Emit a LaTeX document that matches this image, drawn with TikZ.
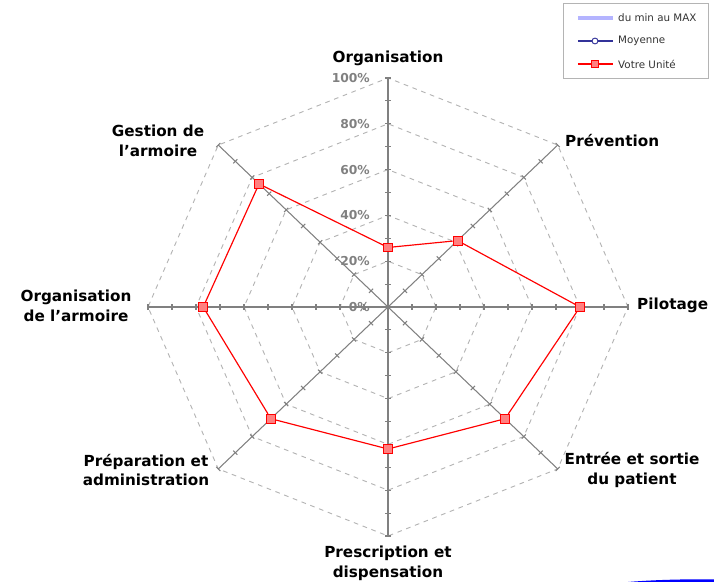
\documentclass[tikz,border=0pt]{standalone}
\usepackage{fontspec}
\setmainfont{DejaVu Sans}
\usetikzlibrary{calc,positioning}
\definecolor{axisgray}{HTML}{808080}
\definecolor{ringgray}{HTML}{B4B4B4}
\definecolor{markred}{HTML}{FF8080}
\definecolor{minmax}{HTML}{B4B4FF}
\definecolor{moyenne}{HTML}{333399}
\tikzset{
    axis/.style={draw=axisgray, line width=0.9pt},
    ring/.style={draw=ringgray, line width=0.8pt, dash pattern=on 4pt off 4pt},
    pct/.style={text=axisgray, font=\fontsize{10.5}{12}\selectfont\bfseries, inner sep=0pt},
    lbl/.style={font=\fontsize{13}{17}\selectfont\bfseries, align=center, inner sep=0pt},
    unite/.style={draw=red, fill=markred, line width=0.8pt, minimum size=7.5pt, inner sep=0pt},
    leg/.style={font=\fontsize{8.8}{10}\selectfont, text=black!80, anchor=west, inner sep=0pt}
}

\begin{document}
\begin{tikzpicture}[x=0.03cm, y=0.03cm]
\useasboundingbox (-388,-275) rectangle (326,307);

\begin{scope}[x=7.2cm, y=6.87cm]
    \coordinate (c) at (0,0);
    % rings every 20%
    \foreach \r in {0.2,0.4,0.6,0.8,1}
        \draw[ring] (0:\r) -- (45:\r) -- (90:\r) -- (135:\r) -- (180:\r)
            -- (225:\r) -- (270:\r) -- (315:\r) -- cycle;
    % axes with ticks every 10%
    \foreach \a/\n in {90/o,45/pv,0/pi,-45/es,-90/pd,-135/pa,180/oa,135/ga} {
        \coordinate (e\n) at (\a:1);
        \draw[axis] (c) -- (e\n);
        \foreach \k in {1,...,10}
            \draw[axis] ([shift={(\a+90:2.5pt)}]\a:{\k/10}) -- ([shift={(\a-90:2.5pt)}]\a:{\k/10});
    }
    \foreach \p in {0,20,...,100}
        \node[pct, anchor=east] (p\p) at ([xshift=-0.54cm]90:{\p/100}) {\p\%};

    % Votre Unite
    \node[unite] (vo) at (90:0.26) {};
    \node[unite] (vpv) at (45:0.41) {};
    \node[unite] (vpi) at (0:0.80) {};
    \node[unite] (ves) at (-45:0.69) {};
    \node[unite] (vpd) at (-90:0.62) {};
    \node[unite] (vpa) at (-135:0.69) {};
    \node[unite] (voa) at (180:0.77) {};
    \node[unite] (vga) at (135:0.76) {};
    \draw[red, line width=1pt] (vo) -- (vpv) -- (vpi) -- (ves) -- (vpd)
        -- (vpa) -- (voa) -- (vga) -- (vo);
\end{scope}

\node[lbl] (lo) at (0,249) {Organisation};
\node[lbl, anchor=west] (lpv) at (177,166) {Prévention};
\node[lbl, anchor=west] (lpi) at (249,2) {Pilotage};
\node[lbl] (les) at (244,-163) {Entrée et sortie\\du patient};
\node[lbl] (lpd) at (0,-256) {Prescription et\\dispensation};
\node[lbl] (lpa) at (-242,-163) {Préparation et\\administration};
\node[lbl] (loa) at (-312,1) {Organisation\\de l'armoire};
\node[lbl] (lga) at (-230,166) {Gestion de\\l'armoire};

% legend
\node[draw=ringgray, line width=0.8pt, minimum width=4.35cm, minimum height=2.25cm] (legend) at (247.5,266.5) {};
\coordinate (l1a) at (190,289);
\coordinate (l1b) at (225,289);
\draw[minmax, line width=3.5pt] (l1a) -- (l1b);
\node[leg] (t1) at (230,289) {du min au MAX};
\coordinate (l2a) at (190,266);
\coordinate (l2b) at (225,266);
\node[circle, draw=moyenne, fill=white, line width=0.8pt, minimum size=5pt, inner sep=0pt] (lm) at (207,266) {};
\draw[moyenne, line width=0.9pt] (l2a) -- (lm) -- (l2b);
\node[leg] (t2) at (230,266) {Moyenne};
\coordinate (l3a) at (190,243);
\coordinate (l3b) at (225,243);
\node[unite, minimum size=6pt] (lu) at (207,243) {};
\draw[red, line width=0.9pt] (l3a) -- (lu) -- (l3b);
\node[leg] (t3) at (230,243) {Votre Unité};

% blue swoosh
\fill[blue] (240,-275) .. controls (270,-272.5) and (305,-272) .. (326,-272.5) -- (326,-275) -- cycle;
\end{tikzpicture}
\end{document}
